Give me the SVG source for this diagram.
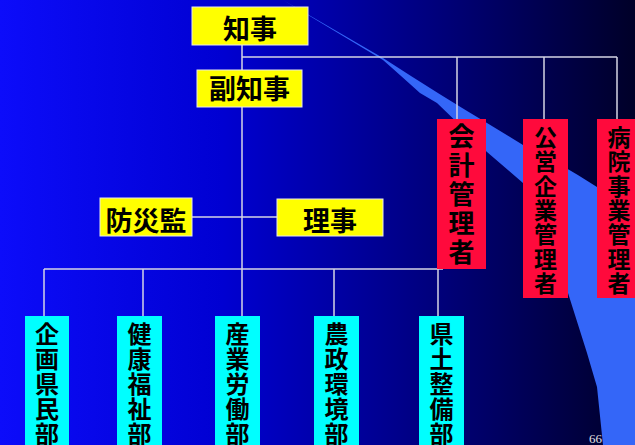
<svg xmlns="http://www.w3.org/2000/svg" width="635" height="445" viewBox="0 0 635 445">
<defs>
<linearGradient id="bg" x1="0" y1="0" x2="1" y2="0">
<stop offset="0" stop-color="#0c0cfa"/>
<stop offset="0.35" stop-color="#0000d2"/>
<stop offset="0.7" stop-color="#000078"/>
<stop offset="1" stop-color="#000028"/>
</linearGradient>
<style>
.ln{stroke:#d4d4e4;stroke-width:1.5;fill:none}
.y{fill:#ffff00;stroke:#e8e8e8;stroke-width:1}
.r{fill:#ff0a3c}
.c{fill:#00ffff}
.t{font-family:"Noto Sans CJK JP","Noto Sans CJK SC",sans-serif;font-weight:bold;fill:#000;text-anchor:middle}
.v{font-family:"Noto Sans CJK JP","Noto Sans CJK SC",sans-serif;font-weight:bold;fill:#000;writing-mode:vertical-rl;text-anchor:start}
</style>
</defs>
<rect width="635" height="445" fill="url(#bg)"/>
<path d="M283,0 L383,58 Q440,95 487,123 L523,145 Q560,163 597,187 L635,212 L635,445 L603,445 L597,387 L587,353 L568,293 Q550,225 523,183 L487,152 Q460,125 437,103 L420,93 Q400,75 383,60 Z" fill="#3466f8"/>
<g id="connectors">
<line class="ln" x1="242" y1="45" x2="242" y2="316"/>
<line class="ln" x1="242" y1="57" x2="617" y2="57"/>
<line class="ln" x1="457" y1="57" x2="457" y2="119"/>
<line class="ln" x1="544" y1="57" x2="544" y2="119"/>
<line class="ln" x1="617" y1="57" x2="617" y2="119"/>
<line class="ln" x1="192" y1="217" x2="277" y2="217"/>
<line class="ln" x1="44" y1="269" x2="443" y2="269"/>
<line class="ln" x1="44" y1="269" x2="44" y2="316"/>
<line class="ln" x1="143" y1="269" x2="143" y2="316"/>
<line class="ln" x1="334" y1="269" x2="334" y2="316"/>
<line class="ln" x1="438" y1="269" x2="438" y2="316"/>
</g>
<g id="chiji"><rect class="y" x="192" y="7" width="116" height="38"/><text class="t" x="250" y="39" font-size="27">知事</text></g>
<g id="fukuchiji"><rect class="y" x="197" y="70" width="105" height="37"/><text class="t" x="249.5" y="99" font-size="27">副知事</text></g>
<g id="bosaikan"><rect class="y" x="100" y="198" width="92" height="38"/><text class="t" x="146" y="231" font-size="27">防災監</text></g>
<g id="riji"><rect class="y" x="277" y="199" width="106" height="37"/><text class="t" x="330" y="231" font-size="27">理事</text></g>
<g id="kaikei"><rect class="r" x="437" y="119" width="49" height="150"/><text class="v" x="461.5" y="123.5" font-size="26" letter-spacing="3">会計管理者</text></g>
<g id="koei"><rect class="r" x="523" y="119" width="45" height="179"/><text class="v" x="545.5" y="125.6" font-size="23" letter-spacing="1.4">公営企業管理者</text></g>
<g id="byoin"><rect class="r" x="597" y="119" width="45" height="179"/><text class="v" x="619" y="125.6" font-size="23" letter-spacing="1.4">病院事業管理者</text></g>
<g id="kikaku"><rect class="c" x="25" y="316" width="44" height="135"/><text class="v" x="47" y="321.5" font-size="24" letter-spacing="1">企画県民部</text></g>
<g id="kenko"><rect class="c" x="117" y="316" width="45" height="135"/><text class="v" x="139.5" y="321.5" font-size="24" letter-spacing="1">健康福祉部</text></g>
<g id="sangyo"><rect class="c" x="215" y="316" width="45" height="135"/><text class="v" x="237.5" y="321.5" font-size="24" letter-spacing="1">産業労働部</text></g>
<g id="nosei"><rect class="c" x="314" y="316" width="45" height="135"/><text class="v" x="336.5" y="321.5" font-size="24" letter-spacing="1">農政環境部</text></g>
<g id="kendo"><rect class="c" x="419" y="316" width="45" height="135"/><text class="v" x="441.5" y="321.5" font-size="24" letter-spacing="1">県土整備部</text></g>
<text x="589" y="443" font-family="Liberation Serif, serif" font-size="13" fill="#e0e0e0">66</text>
</svg>
